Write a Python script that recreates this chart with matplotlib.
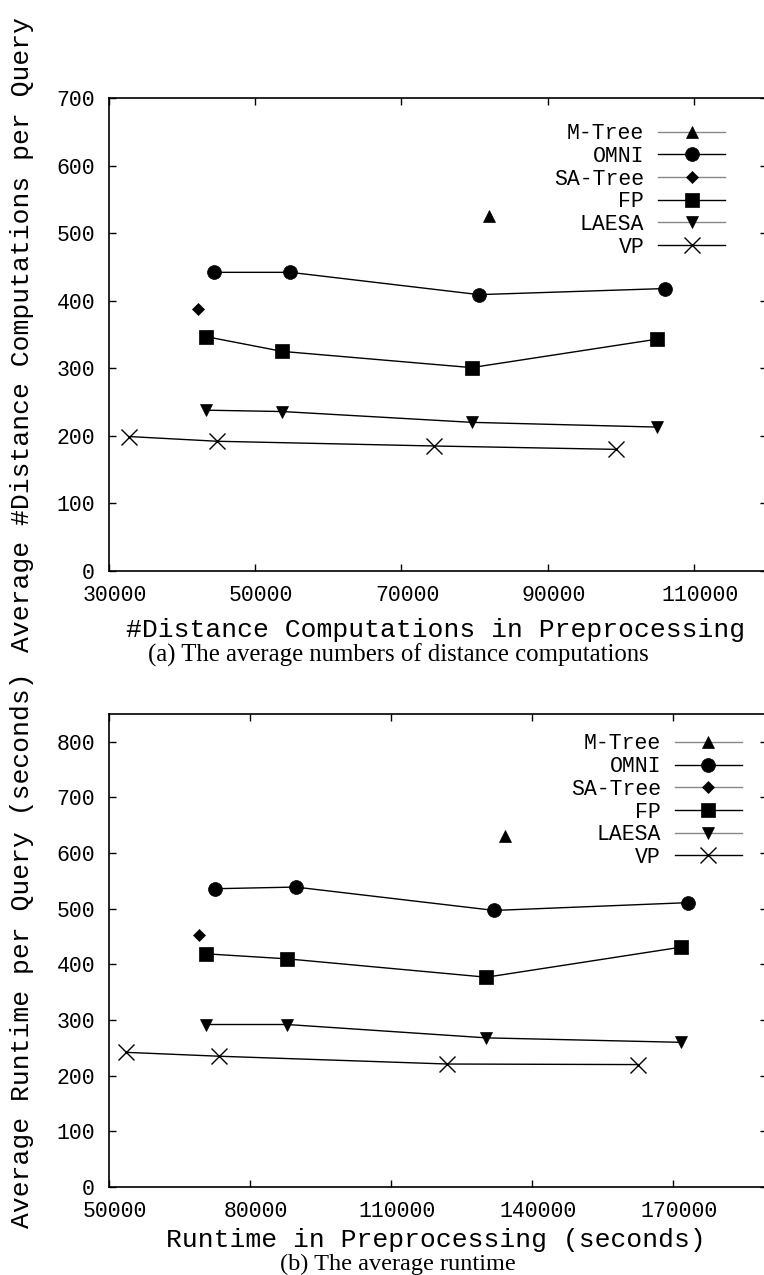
import matplotlib
matplotlib.use('Agg')
import matplotlib.pyplot as plt
from matplotlib.lines import Line2D
from matplotlib.transforms import ScaledTranslation

W, H = 764, 1275
plt.rcParams['font.family'] = ['Liberation Mono', 'DejaVu Sans Mono']

labels = ['M-Tree', 'OMNI', 'SA-Tree', 'FP', 'LAESA', 'VP']

# (a) average #distance computations per query vs #distance computations in preprocessing
a_mtree_x = [82000]
a_mtree_y = [526]
a_omni_x = [44300, 54800, 80600, 106000]
a_omni_y = [442, 442, 409, 418]
a_sa_x = [42200]
a_sa_y = [388]
a_fp_x = [43200, 53700, 79600, 104900]
a_fp_y = [347, 325, 301, 343]
a_laesa_x = [43200, 53700, 79600, 104900]
a_laesa_y = [238, 236, 220, 213]
a_vp_x = [32700, 44800, 74500, 99400]
a_vp_y = [199, 192, 185, 180]

# (b) average runtime per query vs runtime in preprocessing
b_mtree_x = [134200]
b_mtree_y = [630]
b_omni_x = [72500, 89700, 132000, 173200]
b_omni_y = [536, 539, 497, 511]
b_sa_x = [69100]
b_sa_y = [453]
b_fp_x = [70700, 87900, 130300, 171700]
b_fp_y = [419, 410, 377, 431]
b_laesa_x = [70700, 87900, 130300, 171700]
b_laesa_y = [292, 292, 268, 260]
b_vp_x = [53600, 73400, 122000, 162600]
b_vp_y = [242, 235, 221, 220]

# marker, size, legend line colour
styles = [('^', 9, '#888888'), ('o', 10, 'black'), ('D', 6.5, '#888888'),
          ('s', 10, 'black'), ('v', 9, '#888888'), ('x', 11, 'black')]

FS = 15.5


def px(x, y):
    return x / W, 1 - y / H


fig = plt.figure(figsize=(W / 100, H / 100), dpi=100)


def panel(top, bottom, xs, ys, xlim, ylim, xticks, yticks, leg_anchor):
    l, b = px(109, bottom)
    ax = fig.add_axes([l, b, (767 - 109) / W, (bottom - top) / H])
    for x, y, lab, (m, ms, lc) in zip(xs, ys, labels, styles):
        ax.plot(x, y, color='black', lw=1.0, marker=m, ms=ms,
                mew=1.0 if m == 'x' else 0.5, mfc='black', mec='black', label=lab)
    ax.set_xlim(*xlim)
    ax.set_ylim(*ylim)
    ax.tick_params(direction='in', length=5, width=1, top=True, right=True,
                   labelsize=FS, pad=10)
    ax.set_xticks(xticks)
    ax.set_yticks(yticks)
    for sp in ax.spines.values():
        sp.set_linewidth(1.2)
    # gnuplot puts the x tick labels a little right of the ticks
    off = ScaledTranslation(0.06, 0, fig.dpi_scale_trans)
    for lbl in ax.get_xticklabels():
        lbl.set_transform(lbl.get_transform() + off)
    handles = [Line2D([], [], color=lc, lw=1.0, marker=m, ms=ms,
                      mew=1.0 if m == 'x' else 0.5, mfc='black', mec='black')
               for (m, ms, lc) in styles]
    ax.legend(handles, labels, loc='upper right', bbox_to_anchor=leg_anchor,
              frameon=False, markerfirst=False, handlelength=3.1,
              handletextpad=0.65, labelspacing=0.08, borderpad=0,
              borderaxespad=0, fontsize=FS, numpoints=1)
    return ax


panel(98, 571,
      [a_mtree_x, a_omni_x, a_sa_x, a_fp_x, a_laesa_x, a_vp_x],
      [a_mtree_y, a_omni_y, a_sa_y, a_fp_y, a_laesa_y, a_vp_y],
      (30000, 120000), (0, 700),
      [30000, 50000, 70000, 90000, 110000], range(0, 701, 100),
      (0.936, 0.947))

panel(714, 1187,
      [b_mtree_x, b_omni_x, b_sa_x, b_fp_x, b_laesa_x, b_vp_x],
      [b_mtree_y, b_omni_y, b_sa_y, b_fp_y, b_laesa_y, b_vp_y],
      (50000, 190000), (0, 850),
      [50000, 80000, 110000, 140000, 170000], range(0, 801, 100),
      (0.9615, 0.959))

# axis labels
fig.text(*px(436, 637), '#Distance Computations in Preprocessing',
         fontsize=19, ha='center', va='baseline')
fig.text(*px(436, 1247), 'Runtime in Preprocessing (seconds)',
         fontsize=19, ha='center', va='baseline')
fig.text(*px(22, 334), 'Average #Distance Computations per Query',
         fontsize=19, rotation=90, ha='center', va='center')
fig.text(*px(22, 950), 'Average Runtime per Query (seconds)',
         fontsize=19, rotation=90, ha='center', va='center')

# captions
fig.text(*px(398, 662), '(a) The average numbers of distance computations',
         fontsize=17.8, family='Liberation Serif', ha='center', va='baseline')
fig.text(*px(398, 1270), '(b) The average runtime',
         fontsize=17.5, family='Liberation Serif', ha='center', va='baseline')

fig.savefig('out.png', dpi=100)
